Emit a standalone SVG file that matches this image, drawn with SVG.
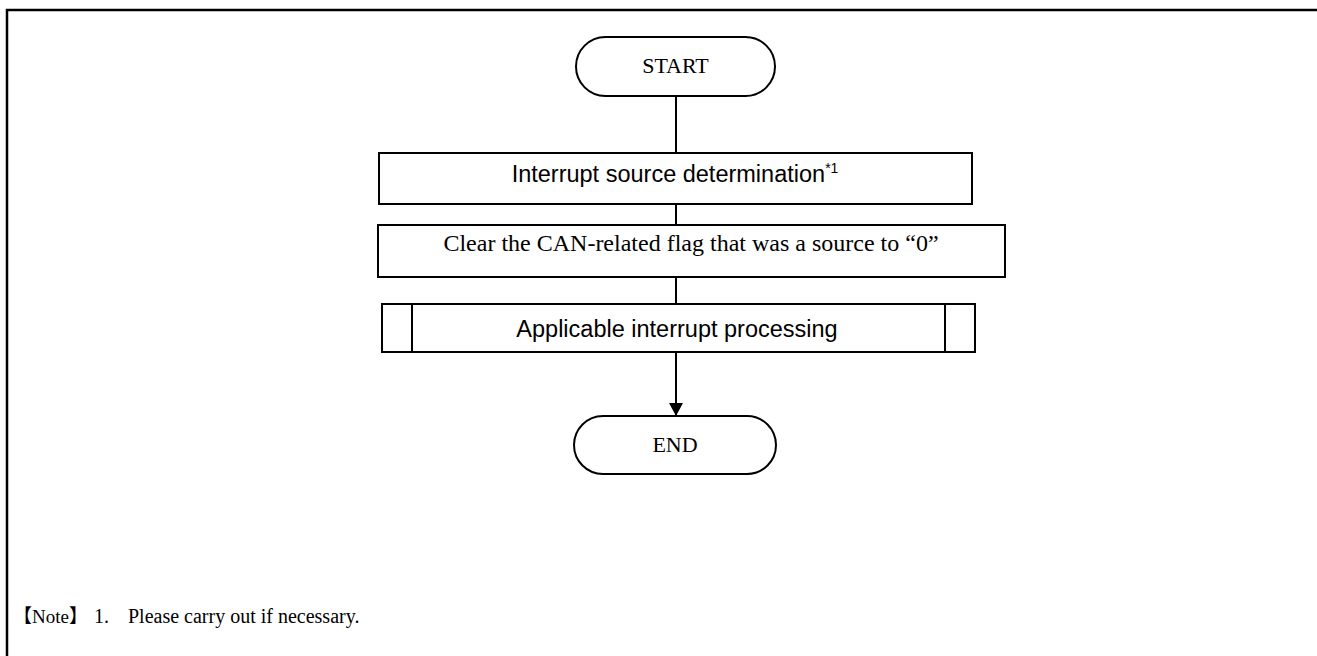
<svg xmlns="http://www.w3.org/2000/svg" width="1317" height="656" viewBox="0 0 1317 656">
<style>
.shape{fill:#fff;stroke:#000;stroke-width:2}
.line{fill:none;stroke:#000;stroke-width:2}
.serif{font-family:"Liberation Serif","Times New Roman","Noto Sans CJK JP",serif;fill:#000}
.sans{font-family:"Liberation Sans",Arial,sans-serif;fill:#000}
</style>
<defs>
<marker id="arrow" markerWidth="14" markerHeight="14" refX="13" refY="7" orient="auto" markerUnits="userSpaceOnUse">
<path d="M0,0 L13,7 L0,14 Z" fill="#000"/>
</marker>
</defs>
<rect width="1317" height="656" fill="#fff"/>
<path d="M7,656 V10 H1317" fill="none" stroke="#000" stroke-width="2.5"/>
<g id="connectors">
<line class="line" x1="676" y1="97" x2="676" y2="153"/>
<line class="line" x1="676" y1="204" x2="676" y2="225"/>
<line class="line" x1="676" y1="277" x2="676" y2="304"/>
<line class="line" x1="676" y1="352" x2="676" y2="416" marker-end="url(#arrow)"/>
</g>
<g id="start">
<rect class="shape" x="576" y="37" width="199" height="59" rx="29.5"/>
<text class="serif" x="675.5" y="73" font-size="22" text-anchor="middle">START</text>
</g>
<g id="step1">
<rect class="shape" x="379" y="153" width="593" height="51"/>
<text class="sans" x="675" y="182" font-size="23.5" text-anchor="middle">Interrupt source determination<tspan font-size="14" dy="-9">*1</tspan></text>
</g>
<g id="step2">
<rect class="shape" x="378" y="225" width="627" height="52"/>
<text class="serif" x="691" y="251" font-size="24" text-anchor="middle">Clear the CAN-related flag that was a source to “0”</text>
</g>
<g id="step3">
<rect class="shape" x="382" y="304" width="593" height="48"/>
<line class="line" x1="412" y1="304" x2="412" y2="352"/>
<line class="line" x1="945" y1="304" x2="945" y2="352"/>
<text class="sans" x="677" y="337" font-size="23.5" text-anchor="middle">Applicable interrupt processing</text>
</g>
<g id="end">
<rect class="shape" x="574" y="416" width="202" height="58" rx="29"/>
<text class="serif" x="675" y="452" font-size="22" text-anchor="middle">END</text>
</g>
<g id="note">
<text class="serif" x="13" y="623" font-size="19">【Note】</text>
<text class="serif" x="94" y="623" font-size="20">1.</text>
<text class="serif" x="128" y="623" font-size="20">Please carry out if necessary.</text>
</g>
</svg>
